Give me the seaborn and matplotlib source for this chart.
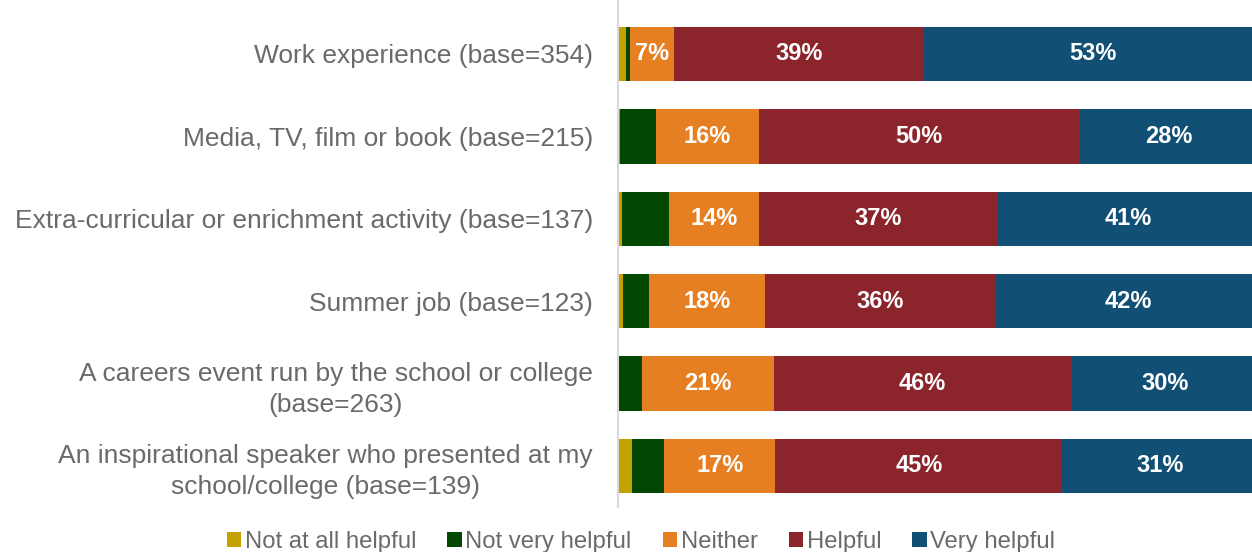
import matplotlib
matplotlib.use("Agg")
import matplotlib.pyplot as plt
import seaborn as sns
import pandas as pd
import numpy as np
from matplotlib.patches import Patch

categories = [
    "Work experience (base=354)",
    "Media, TV, film or book (base=215)",
    "Extra-curricular or enrichment activity (base=137)",
    "Summer job (base=123)",
    "A careers event run by the school or college\n(base=263)",
    "An inspirational speaker who presented at my\nschool/college (base=139)",
]
series_names = ["Not at all helpful", "Not very helpful", "Neither", "Helpful", "Very helpful"]
not_at_all = [1.25, 0.3, 0.6, 0.8, 0.0, 2.2]
not_very = [0.6, 5.6, 7.3, 4.1, 3.75, 5.0]
neither = [6.9, 16.1, 14.1, 18.1, 20.6, 17.4]
helpful = [39.1, 50.0, 37.4, 35.9, 46.4, 44.8]
very_helpful = [52.6, 28.0, 40.6, 41.6, 29.6, 30.6]
colors = ["#C4A000", "#024702", "#E67E22", "#8B252B", "#124F75"]
labelled = [False, False, True, True, True]

sns.set_theme(style="white")
plt.rcParams["font.family"] = ["Liberation Sans", "DejaVu Sans"]

fig = plt.figure(figsize=(12.52, 5.52), dpi=100)
ax = fig.add_axes([618 / 1252, 1 - 507 / 552, 640 / 1252, 507 / 552])

series = [not_at_all, not_very, neither, helpful, very_helpful]
cums = np.cumsum(np.array(series), axis=0)

# draw cumulative bars from the longest back to the shortest
for i in range(len(series) - 1, -1, -1):
    df = pd.DataFrame({"cat": categories, "val": cums[i]})
    sns.barplot(data=df, y="cat", x="val", orient="h", color=colors[i],
                saturation=1, width=0.66, ax=ax, linewidth=0)

# labels
for i, vals in enumerate(series):
    if not labelled[i]:
        continue
    for j, v in enumerate(vals):
        left = cums[i][j] - v
        ax.text(left + v / 2, j, f"{round(v):.0f}%", ha="center", va="center",
                color="white", fontsize=17, fontweight="bold")

ax.set_xlim(0, 100)
ax.set_ylim(5.5, -0.655)
ax.set_xlabel("")
ax.set_ylabel("")
ax.set_xticks([])
ax.tick_params(axis="y", length=0, pad=18, labelsize=19, labelcolor="#6A6A6A")
for lbl in ax.get_yticklabels():
    lbl.set_multialignment("center")
    lbl.set_linespacing(1.35)
for s in ["top", "right", "bottom"]:
    ax.spines[s].set_visible(False)
ax.spines["left"].set_color("#D9D9D9")
ax.spines["left"].set_linewidth(1.5)

handles = [Patch(facecolor=c, edgecolor="none") for c in colors]
fig.legend(handles, series_names, loc="center", bbox_to_anchor=(0.512, 0.019),
           ncol=5, frameon=False, fontsize=17.2, handlelength=0.6, handleheight=0.6,
           handletextpad=0.15, columnspacing=1.3, labelcolor="#6A6A6A")

fig.savefig("out.png", dpi=100)
